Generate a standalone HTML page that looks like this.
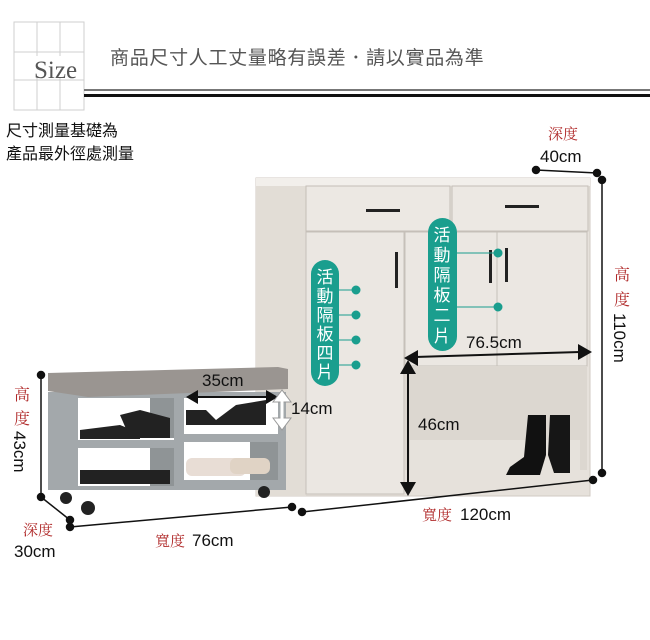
<!DOCTYPE html>
<html><head><meta charset="utf-8"><style>
html,body{margin:0;padding:0;background:#fff;}
svg{display:block;font-family:"Liberation Sans","Noto Sans CJK TC",sans-serif;}
.r{fill:#b02a2a;font-family:"Noto Serif CJK SC","Liberation Serif",serif;}
</style></head><body>
<svg width="650" height="640" viewBox="0 0 650 640">
<g stroke="#cfcfcf" stroke-width="1" fill="none">
<rect x="14" y="22" width="70" height="88"/>
<line x1="37" y1="22" x2="37" y2="110"/><line x1="60" y1="22" x2="60" y2="110"/>
<line x1="14" y1="52" x2="84" y2="52"/><line x1="14" y1="80" x2="84" y2="80"/>
</g>
<rect x="30" y="56" width="50" height="22" fill="#fff"/>
<text x="34" y="78" font-family="Liberation Serif,serif" font-size="25" fill="#555">Size</text>
<text x="110" y="64" font-size="19" fill="#555" letter-spacing="0.7">商品尺寸人工丈量略有誤差．請以實品為準</text>
<rect x="84" y="89" width="566" height="2" fill="#777"/>
<rect x="84" y="94" width="566" height="3" fill="#111"/>
<text x="6" y="136" font-size="16" fill="#111">尺寸測量基礎為</text>
<text x="6" y="159" font-size="16" fill="#111">產品最外徑處測量</text>

<rect x="256" y="178" width="334" height="318" fill="#e6e1db" stroke="#d0cac3"/>
<rect x="256" y="178" width="334" height="8" fill="#f2efeb"/>
<rect x="256" y="186" width="50" height="310" fill="#e2ddd6"/>
<rect x="306" y="186" width="144" height="45" fill="#ece8e3" stroke="#c4beb7"/>
<rect x="452" y="186" width="136" height="45" fill="#ece8e3" stroke="#c4beb7"/>
<rect x="306" y="232" width="98" height="262" fill="#ebe7e2" stroke="#c6c0b9"/>
<rect x="405" y="232" width="92" height="134" fill="#ebe7e2" stroke="#c6c0b9"/>
<rect x="497" y="232" width="90" height="134" fill="#ebe7e2" stroke="#c6c0b9"/>
<rect x="405" y="366" width="182" height="104" fill="#dcd7d0"/>
<rect x="410" y="440" width="170" height="30" fill="#e6e2dc"/>
<rect x="366" y="209" width="34" height="3" fill="#222"/>
<rect x="505" y="205" width="34" height="3" fill="#222"/>
<rect x="395" y="252" width="3" height="36" fill="#222"/>
<rect x="489" y="250" width="3" height="33" fill="#222"/>
<rect x="505" y="248" width="3" height="34" fill="#222"/>
<path d="M528 415h18v40l-6 20h-34l4-8 14-10z" fill="#111"/>
<path d="M550 415h20v58h-16l-6-18z" fill="#161616"/>

<g fill="#1a9e8e" stroke="#1a9e8e">
<rect x="311" y="260" width="28" height="126" rx="14" stroke="none"/>
<rect x="428" y="218" width="29" height="133" rx="14.5" stroke="none"/>
<line x1="338" y1="290" x2="356" y2="290"/><line x1="338" y1="315" x2="356" y2="315"/>
<line x1="338" y1="340" x2="356" y2="340"/><line x1="338" y1="365" x2="356" y2="365"/>
<line x1="456" y1="253" x2="498" y2="253"/><line x1="456" y1="307" x2="498" y2="307"/>
<circle cx="356" cy="290" r="4"/><circle cx="356" cy="315" r="4"/><circle cx="356" cy="340" r="4"/><circle cx="356" cy="365" r="4"/>
<circle cx="498" cy="253" r="4"/><circle cx="498" cy="307" r="4"/>
</g>
<g fill="#fff" font-size="17" text-anchor="middle">
<text x="325" y="283">活</text><text x="325" y="302">動</text><text x="325" y="321">隔</text><text x="325" y="340">板</text><text x="325" y="359">四</text><text x="325" y="378">片</text>
<text x="442" y="241">活</text><text x="442" y="261">動</text><text x="442" y="281">隔</text><text x="442" y="301">板</text><text x="442" y="321">二</text><text x="442" y="342">片</text>
</g>
<line x1="415" y1="357" x2="580" y2="352" stroke="#111" stroke-width="2"/>
<path d="M404 358l14-8v16z M592 352l-14-8v16z" fill="#111"/>
<text x="466" y="348" font-size="17" fill="#111">76.5cm</text>
<line x1="408" y1="366" x2="408" y2="485" stroke="#111" stroke-width="2"/>
<path d="M400 374l8-14 8 14z M400 482l8 14 8-14z" fill="#111"/>
<text x="418" y="430" font-size="17" fill="#111">46cm</text>

<rect x="48" y="392" width="238" height="98" fill="#a3a8ab"/>
<rect x="78" y="398" width="96" height="42" fill="#fff"/>
<rect x="184" y="398" width="94" height="36" fill="#fff"/>
<rect x="78" y="448" width="96" height="38" fill="#fff"/>
<rect x="184" y="442" width="94" height="38" fill="#fff"/>
<rect x="150" y="398" width="24" height="40" fill="#8f9496"/>
<rect x="150" y="448" width="24" height="38" fill="#8f9496"/>
<rect x="250" y="442" width="28" height="38" fill="#8f9496"/>
<path d="M48 373l230-6 10 2v20l-200 8-40-6z" fill="#9a9591"/>
<g fill="#222">
<path d="M80 430l40-5 20 8v6h-60z"/><path d="M120 415l20-5 30 8v20h-40z"/>
<path d="M186 410l20 0 10 10 20-15 30-5v25h-80z"/>
<path d="M80 470h90v14h-90z"/>
</g>
<rect x="186" y="458" width="60" height="18" rx="6" fill="#e8ddd5"/>
<rect x="230" y="458" width="40" height="16" rx="6" fill="#e0d3c5"/>
<g fill="#222"><circle cx="66" cy="498" r="6"/><circle cx="88" cy="508" r="7"/><circle cx="264" cy="492" r="6"/></g>
<text x="202" y="386" font-size="17" fill="#111">35cm</text>
<line x1="196" y1="397" x2="268" y2="397" stroke="#111" stroke-width="2"/>
<path d="M186 397l12-7v14z M278 397l-12-7v14z" fill="#111"/>
<path d="M282 390l-9 12h18z M282 430l-9-12h18z" fill="#fff" stroke="#999"/>
<line x1="282" y1="400" x2="282" y2="420" stroke="#fff" stroke-width="3"/>
<text x="291" y="414" font-size="17" fill="#111">14cm</text>

<g stroke="#111" stroke-width="1.5" fill="#111">
<line x1="41" y1="375" x2="41" y2="497"/><circle cx="41" cy="375" r="3.5"/><circle cx="41" cy="497" r="3.5"/>
<line x1="41" y1="497" x2="70" y2="520"/><circle cx="70" cy="520" r="3.5"/><circle cx="70" cy="527" r="3.5"/>
<line x1="70" y1="527" x2="292" y2="507"/><circle cx="292" cy="507" r="3.5"/>
<line x1="302" y1="512" x2="593" y2="480"/><circle cx="302" cy="512" r="3.5"/><circle cx="593" cy="480" r="3.5"/>
<line x1="602" y1="180" x2="602" y2="473"/><circle cx="602" cy="180" r="3.5"/><circle cx="602" cy="473" r="3.5"/>
<line x1="536" y1="170" x2="597" y2="173"/><circle cx="536" cy="170" r="3.5"/><circle cx="597" cy="173" r="3.5"/>
</g>
<text class="r" x="548" y="139" font-size="15">深度</text>
<text x="540" y="162" font-size="17" fill="#111">40cm</text>
<text class="r" x="614" y="280" font-size="16">高</text>
<text class="r" x="614" y="305" font-size="16">度</text>
<text x="0" y="0" font-size="17" fill="#111" transform="translate(614,313) rotate(90)">110cm</text>
<text class="r" x="14" y="400" font-size="16">高</text>
<text class="r" x="14" y="424" font-size="16">度</text>
<text x="0" y="0" font-size="17" fill="#111" transform="translate(14,431) rotate(90)">43cm</text>
<text class="r" x="23" y="535" font-size="15">深度</text>
<text x="14" y="557" font-size="17" fill="#111">30cm</text>
<text class="r" x="155" y="546" font-size="15">寬度</text>
<text x="192" y="546" font-size="17" fill="#111">76cm</text>
<text class="r" x="422" y="520" font-size="15">寬度</text>
<text x="460" y="520" font-size="17" fill="#111">120cm</text>
</svg>
</body></html>
